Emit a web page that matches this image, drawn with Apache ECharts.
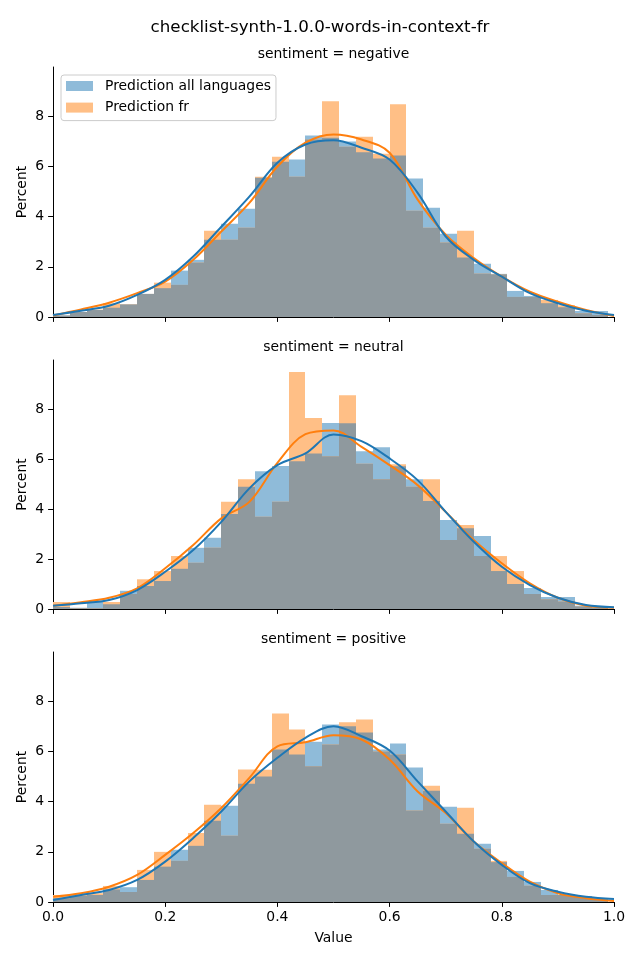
<!DOCTYPE html>
<html><head><meta charset="utf-8">
<script src="https://cdn.jsdelivr.net/npm/echarts@6/dist/echarts.min.js"></script>
<style>html,body{margin:0;padding:0;background:#fff}#c{width:640px;height:960px}</style>
</head><body><div id="c"></div>
<script>
// ---- data ----
const suptitle = 'checklist-synth-1.0.0-words-in-context-fr';
const panelTitles = ['sentiment = negative', 'sentiment = neutral', 'sentiment = positive'];
const seriesNames = ['Prediction all languages', 'Prediction fr'];
const binEdges = [0.00,0.03,0.06,0.09,0.12,0.15,0.18,0.21,0.24,0.27,0.30,0.33,0.36,0.39,0.42,0.45,0.48,0.51,0.54,0.57,0.60,0.63,0.66,0.69,0.72,0.75,0.78,0.81,0.84,0.87,0.90,0.93,0.96,0.99];
const yTicks = [0, 2, 4, 6, 8];

const negAll = [0.07,0.20,0.28,0.37,0.50,0.92,1.15,1.85,2.28,3.08,3.72,4.32,5.55,6.19,6.28,7.24,7.15,7.00,6.57,6.32,6.44,5.52,4.36,3.32,2.37,2.12,1.72,1.04,0.84,0.55,0.39,0.24,0.24];
const negFr  = [0.05,0.20,0.30,0.55,0.50,0.92,1.37,1.28,2.17,3.44,3.08,3.56,5.59,6.39,5.59,7.08,8.60,6.79,7.19,6.51,8.48,4.24,3.56,2.97,3.44,1.73,1.70,0.80,0.80,0.68,0.47,0.15,0.08];
const neuAll = [0.08,0.05,0.28,0.19,0.73,0.92,1.12,1.61,2.45,2.85,3.80,4.89,5.52,5.73,5.92,6.23,7.45,7.44,6.32,6.48,5.72,5.20,4.32,3.56,3.23,2.92,1.52,1.00,0.84,0.48,0.48,0.13,0.10];
const neuFr  = [0.28,0.03,0.03,0.28,0.60,1.19,1.52,2.12,1.85,2.45,4.29,5.20,3.69,4.29,9.49,7.65,6.12,8.56,5.82,5.20,5.80,4.89,5.20,2.76,3.36,2.12,2.12,1.52,0.60,0.39,0.30,0.10,0.05];
const posAll = [0.15,0.25,0.28,0.50,0.59,0.88,1.41,2.08,2.24,3.24,3.84,4.72,5.00,6.08,5.88,6.39,7.08,7.01,6.76,6.08,6.32,5.36,4.44,3.80,2.72,2.32,1.59,1.24,0.80,0.48,0.28,0.24,0.15];
const posFr  = [0.28,0.30,0.35,0.64,0.40,1.28,2.00,1.64,2.75,3.88,2.64,5.28,5.27,7.52,6.88,5.41,6.28,7.17,7.28,6.00,5.88,3.65,4.64,3.12,3.76,2.12,1.64,1.00,0.65,0.28,0.28,0.20,0.08];

const kdeX = [0,0.05,0.10,0.15,0.20,0.25,0.30,0.35,0.40,0.45,0.50,0.55,0.60,0.65,0.70,0.75,0.80,0.85,0.90,0.95,1.00];
const negAllKde = [0.08,0.25,0.45,0.88,1.48,2.41,3.60,4.80,6.15,6.88,7.05,6.75,6.28,4.95,3.21,2.28,1.61,0.95,0.55,0.25,0.08];
const negFrKde  = [0.06,0.30,0.57,0.95,1.41,2.28,3.41,4.55,6.00,6.95,7.28,7.08,6.55,4.68,3.28,2.35,1.61,1.01,0.61,0.28,0.04];
const neuAllKde = [0.13,0.23,0.36,0.76,1.49,2.36,3.49,4.83,5.76,6.23,6.99,6.72,6.03,5.16,3.89,2.69,1.69,0.96,0.45,0.16,0.07];
const neuFrKde  = [0.13,0.27,0.45,0.83,1.63,2.56,3.63,4.29,5.85,7.00,7.15,6.49,5.76,4.96,3.89,2.76,1.83,1.03,0.45,0.13,0.05];
const posAllKde = [0.08,0.28,0.48,0.88,1.61,2.55,3.61,4.81,5.75,6.55,7.01,6.61,6.04,4.81,3.61,2.41,1.48,0.75,0.41,0.21,0.12];
const posFrKde  = [0.21,0.35,0.61,1.08,1.88,2.75,3.75,4.95,6.21,6.37,6.65,6.48,5.68,4.41,3.55,2.41,1.55,0.81,0.35,0.15,0.04];

const panels = [
  {all: negAll, fr: negFr, allKde: negAllKde, frKde: negFrKde},
  {all: neuAll, fr: neuFr, allKde: neuAllKde, frKde: neuFrKde},
  {all: posAll, fr: posFr, allKde: posAllKde, frKde: posFrKde}
];

// ---- styles ----
const FONT = 'DejaVu Sans';
const cBlueFill = '#8fbbd9', cOrangeFill = '#ffbf86', cOverlap = '#8f999e';
const cBlue = '#1f77b4', cOrange = '#ff7f0e';
const gridTops = [67, 360, 652];
const gridHeights = [250, 249, 250];

function histSeries(name, gi, values, fill, z) {
  return {
    name: name, type: 'custom', xAxisIndex: gi, yAxisIndex: gi, z: z,
    itemStyle: {color: fill},
    data: values.map((v, i) => [binEdges[i], binEdges[i + 1], v]),
    encode: {x: [0, 1], y: 2},
    renderItem: function (params, api) {
      const p0 = api.coord([api.value(0), api.value(2)]);
      const p1 = api.coord([api.value(1), 0]);
      const x0 = Math.round(p0[0]), x1 = Math.round(p1[0]);
      return {type: 'rect',
        shape: {x: x0, y: p0[1], width: x1 - x0, height: p1[1] - p0[1]},
        style: {fill: fill}};
    }
  };
}
function kdeSeries(name, gi, values, color, z) {
  return {
    name: name, type: 'line', xAxisIndex: gi, yAxisIndex: gi, z: z,
    data: kdeX.map((x, i) => [x, values[i]]),
    showSymbol: false, smooth: 0.35, silent: true,
    lineStyle: {color: color, width: 2}, itemStyle: {color: color}
  };
}

const grid = [], xAxis = [], yAxis = [], series = [];
const title = [{text: suptitle, left: 320, top: 19, textAlign: 'center', padding: 0,
  textStyle: {fontFamily: FONT, fontSize: 16.7, fontWeight: 'normal', color: '#000'}}];

panels.forEach((p, gi) => {
  grid.push({left: 53, right: 26, top: gridTops[gi], height: gridHeights[gi], containLabel: false});
  title.push({text: panelTitles[gi], left: 333.5, top: gridTops[gi] - 20, textAlign: 'center', padding: 0,
    textStyle: {fontFamily: FONT, fontSize: 13.9, fontWeight: 'normal', color: '#000'}});
  const last = gi === panels.length - 1;
  xAxis.push({type: 'value', gridIndex: gi, min: 0, max: 1, interval: 0.2,
    name: last ? 'Value' : '', nameLocation: 'middle', nameGap: 29, nameMoveOverlap: false,
    nameTextStyle: {fontFamily: FONT, fontSize: 13.9, color: '#000'},
    axisLine: {show: true, onZero: false, lineStyle: {color: '#000', width: 1}},
    axisTick: {show: true, length: 4.9, lineStyle: {color: '#000', width: 1}},
    axisLabel: {show: last, margin: 8, fontFamily: FONT, fontSize: 13.9, color: '#000',
      formatter: v => v.toFixed(1)},
    splitLine: {show: false}});
  yAxis.push({type: 'value', gridIndex: gi, min: 0, max: 9.97,
    name: 'Percent', nameLocation: 'middle', nameGap: 24, nameRotate: 90, nameMoveOverlap: false,
    nameTextStyle: {fontFamily: FONT, fontSize: 13.9, color: '#000'},
    axisLine: {show: true, lineStyle: {color: '#000', width: 1}},
    axisTick: {show: true, length: 4.9, customValues: yTicks, lineStyle: {color: '#000', width: 1}},
    axisLabel: {margin: 9, fontFamily: FONT, fontSize: 13.9, color: '#000', customValues: yTicks},
    splitLine: {show: false}});
  const overlap = p.all.map((v, i) => Math.min(v, p.fr[i]));
  series.push(histSeries(seriesNames[0], gi, p.all, cBlueFill, 1));
  series.push(histSeries(seriesNames[1], gi, p.fr, cOrangeFill, 1));
  series.push(histSeries('overlap', gi, overlap, cOverlap, 2));
  series.push(kdeSeries('kde fr ' + gi, gi, p.frKde, cOrange, 3));
  series.push(kdeSeries('kde all ' + gi, gi, p.allKde, cBlue, 4));
});

const chart = echarts.init(document.getElementById('c'), null, {renderer: 'canvas'});
chart.setOption({
  animation: false,
  backgroundColor: '#fff',
  title: title,
  legend: {
    data: [{name: seriesNames[0], icon: 'rect'}, {name: seriesNames[1], icon: 'rect'}],
    orient: 'vertical', left: 61, top: 75, padding: [4, 5, 6, 5],
    itemWidth: 27, itemHeight: 10, itemGap: 7.6,
    backgroundColor: 'rgba(255,255,255,0.8)', borderColor: '#cccccc', borderWidth: 1, borderRadius: 3,
    textStyle: {fontFamily: FONT, fontSize: 13.9, color: '#000', padding: [0, 0, 0, 7]}
  },
  grid: grid, xAxis: xAxis, yAxis: yAxis, series: series
});
</script></body></html>
